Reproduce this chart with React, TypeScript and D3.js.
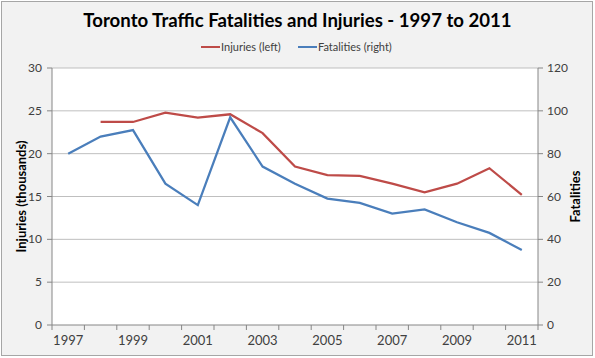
import React from 'react';
import * as d3 from 'd3';

const years = [1997, 1998, 1999, 2000, 2001, 2002, 2003, 2004, 2005, 2006, 2007, 2008, 2009, 2010, 2011];
// injuries in thousands (left axis); no value for 1997
const injuries: (number | null)[] = [null, 23.7, 23.7, 24.8, 24.2, 24.6, 22.4, 18.5, 17.5, 17.4, 16.5, 15.5, 16.5, 18.3, 15.2];
// fatalities (right axis)
const fatalities = [80, 88, 91, 66, 56, 97, 74, 66, 59, 57, 52, 54, 48, 43, 35];
const leftTicks = [0, 5, 10, 15, 20, 25, 30];
const rightTicks = [0, 20, 40, 60, 80, 100, 120];

const W = 595;
const H = 358;
const m = { left: 52, right: 57, top: 68, bottom: 33 };
const font = 'Lato, "Open Sans", sans-serif';
const textColor = '#404040';

export default function App() {
  const x = d3.scaleBand<number>().domain(years).range([m.left, W - m.right]);
  const yL = d3.scaleLinear().domain([0, 30]).range([H - m.bottom, m.top]);
  const yR = d3.scaleLinear().domain([0, 120]).range([H - m.bottom, m.top]);
  const cx = (yr: number) => (x(yr) as number) + x.bandwidth() / 2;

  const injLine = d3.line<number | null>()
    .defined(d => d !== null)
    .x((_, i) => cx(years[i]))
    .y(d => yL(d as number));
  const fatLine = d3.line<number>()
    .x((_, i) => cx(years[i]))
    .y(d => yR(d));

  const bottom = H - m.bottom;
  const right = W - m.right;
  const boundaries = [...years.map(yr => x(yr) as number), right];

  return (
    <svg width={W} height={H} style={{ position: 'absolute', left: 0, top: 0 }} fontFamily={font}>
      <rect x={1.5} y={1.5} width={W - 4} height={H - 4} fill="#f2f2f2" stroke="#a6a6a6" />
      <rect x={m.left} y={m.top} width={right - m.left} height={bottom - m.top} fill="#fff" />

      <text x={W / 2} y={27} textAnchor="middle" fontSize={18.6} fontWeight="bold" fill="#000">
        Toronto Traffic Fatalities and Injuries - 1997 to 2011
      </text>

      {/* legend */}
      <line x1={201} x2={220} y1={47} y2={47} stroke="#be4b48" strokeWidth={2} />
      <text x={221} y={51} fontSize={11} fill={textColor}>Injuries (left)</text>
      <line x1={298} x2={317} y1={47} y2={47} stroke="#4a7ebb" strokeWidth={2} />
      <text x={318} y={51} fontSize={11} fill={textColor}>Fatalities (right)</text>

      {/* gridlines */}
      {leftTicks.slice(1).map(t => (
        <line key={t} x1={m.left} x2={right} y1={yL(t)} y2={yL(t)} stroke="#bfbfbf" strokeWidth={1} />
      ))}

      {/* left axis */}
      <line x1={m.left} x2={m.left} y1={m.top} y2={bottom} stroke="#868686" />
      {leftTicks.map(t => (
        <g key={t}>
          <line x1={m.left - 5} x2={m.left} y1={yL(t)} y2={yL(t)} stroke="#868686" />
          <text x={42} y={yL(t) + 4} textAnchor="end" fontSize={12} fill={textColor}>{t}</text>
        </g>
      ))}
      <text transform={`translate(26,${(m.top + bottom) / 2}) rotate(-90)`} textAnchor="middle"
        fontSize={13} fontWeight="bold" fill="#000">Injuries (thousands)</text>

      {/* right axis */}
      <line x1={right} x2={right} y1={m.top} y2={bottom} stroke="#868686" />
      {rightTicks.map(t => (
        <g key={t}>
          <line x1={right} x2={right + 5} y1={yR(t)} y2={yR(t)} stroke="#868686" />
          <text x={547} y={yR(t) + 4} fontSize={12} fill={textColor}>{t}</text>
        </g>
      ))}
      <text transform={`translate(580,${(m.top + bottom) / 2}) rotate(-90)`} textAnchor="middle"
        fontSize={13} fontWeight="bold" fill="#000">Fatalities</text>

      {/* x axis */}
      <line x1={m.left} x2={right} y1={bottom} y2={bottom} stroke="#868686" />
      {boundaries.map((b, i) => (
        <line key={i} x1={b} x2={b} y1={bottom} y2={bottom + 5} stroke="#868686" />
      ))}
      {years.filter((_, i) => i % 2 === 0).map(yr => (
        <text key={yr} x={cx(yr)} y={bottom + 20} textAnchor="middle" fontSize={13} fill={textColor}>{yr}</text>
      ))}

      <path d={injLine(injuries) || ''} fill="none" stroke="#be4b48" strokeWidth={2.25} />
      <path d={fatLine(fatalities) || ''} fill="none" stroke="#4a7ebb" strokeWidth={2.25} />
    </svg>
  );
}
